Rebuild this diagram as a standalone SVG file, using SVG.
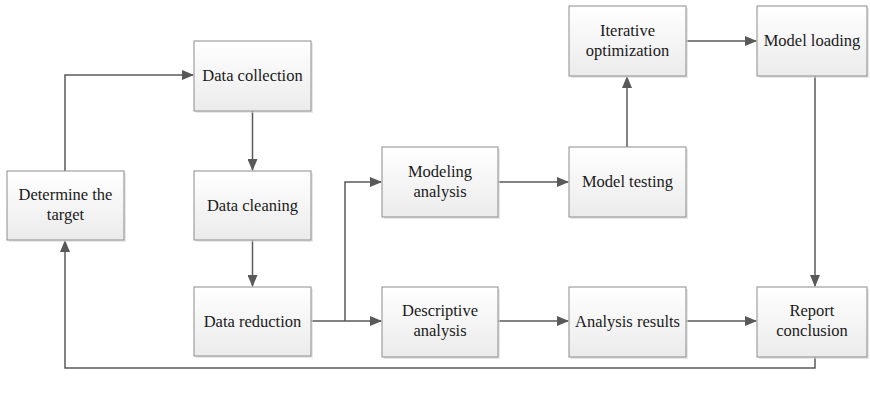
<svg xmlns="http://www.w3.org/2000/svg" width="870" height="396" viewBox="0 0 870 396">
<defs>
<linearGradient id="g" x1="0" y1="0" x2="0" y2="1">
<stop offset="0" stop-color="#ffffff"/>
<stop offset="1" stop-color="#ebebeb"/>
</linearGradient>
<marker id="ah" markerWidth="12" markerHeight="10" refX="11" refY="5" orient="auto" markerUnits="userSpaceOnUse">
<path d="M0,0 L12,5 L0,10 Z" fill="#595959"/>
</marker>
</defs>
<style>
rect.b{fill:url(#g);stroke:#8c8c8c;stroke-width:1}
rect.s{fill:#d9d9d9;opacity:0.6}
text{font-family:'Liberation Serif','Times New Roman','DejaVu Serif',serif;font-size:16.5px;fill:#1a1a1a;text-anchor:middle}
.c path{fill:none;stroke:#595959;stroke-width:1.5}
</style>
<rect width="870" height="396" fill="#ffffff"/>
<g class="c" id="connectors">
<path d="M65,171 V75 H193" marker-end="url(#ah)"/>
<path d="M252.5,111 V170" marker-end="url(#ah)"/>
<path d="M252.5,240 V286" marker-end="url(#ah)"/>
<path d="M311,321 H381" marker-end="url(#ah)"/>
<path d="M345,321 V182 H381" marker-end="url(#ah)"/>
<path d="M498,182 H568" marker-end="url(#ah)"/>
<path d="M627,147 V77" marker-end="url(#ah)"/>
<path d="M686,41 H756" marker-end="url(#ah)"/>
<path d="M815,76 V286" marker-end="url(#ah)"/>
<path d="M498,321 H568" marker-end="url(#ah)"/>
<path d="M686,321 H756" marker-end="url(#ah)"/>
<path d="M815,357 V368 H65 V241" marker-end="url(#ah)"/>
</g>
<g id="determine"><rect class="s" x="9" y="173" width="117" height="69"/><rect class="b" x="7" y="171" width="117" height="69"/><text x="65.5" y="200" font-family="Liberation Serif">Determine the</text><text x="65.5" y="220" font-family="Liberation Serif">target</text></g>
<g id="collection"><rect class="s" x="196" y="43" width="117" height="70"/><rect class="b" x="194" y="41" width="117" height="70"/><text x="252.5" y="81" font-family="Liberation Serif">Data collection</text></g>
<g id="cleaning"><rect class="s" x="196" y="173" width="117" height="69"/><rect class="b" x="194" y="171" width="117" height="69"/><text x="252.5" y="211" font-family="Liberation Serif">Data cleaning</text></g>
<g id="reduction"><rect class="s" x="196" y="289" width="117" height="69"/><rect class="b" x="194" y="287" width="117" height="69"/><text x="252.5" y="327" font-family="Liberation Serif">Data reduction</text></g>
<g id="modeling"><rect class="s" x="384" y="149" width="116" height="70"/><rect class="b" x="382" y="147" width="116" height="70"/><text x="440" y="177" font-family="Liberation Serif">Modeling</text><text x="440" y="197" font-family="Liberation Serif">analysis</text></g>
<g id="descriptive"><rect class="s" x="384" y="289" width="116" height="70"/><rect class="b" x="382" y="287" width="116" height="70"/><text x="440" y="316" font-family="Liberation Serif">Descriptive</text><text x="440" y="336" font-family="Liberation Serif">analysis</text></g>
<g id="testing"><rect class="s" x="571" y="149" width="117" height="70"/><rect class="b" x="569" y="147" width="117" height="70"/><text x="627.5" y="187" font-family="Liberation Serif">Model testing</text></g>
<g id="iterative"><rect class="s" x="571" y="8" width="117" height="70"/><rect class="b" x="569" y="6" width="117" height="70"/><text x="627.5" y="36" font-family="Liberation Serif">Iterative</text><text x="627.5" y="56" font-family="Liberation Serif">optimization</text></g>
<g id="results"><rect class="s" x="571" y="289" width="117" height="70"/><rect class="b" x="569" y="287" width="117" height="70"/><text x="627.5" y="327" font-family="Liberation Serif">Analysis results</text></g>
<g id="loading"><rect class="s" x="759" y="8" width="110" height="70"/><rect class="b" x="757" y="6" width="110" height="70"/><text x="812" y="46" font-family="Liberation Serif">Model loading</text></g>
<g id="report"><rect class="s" x="759" y="289" width="110" height="70"/><rect class="b" x="757" y="287" width="110" height="70"/><text x="812" y="316" font-family="Liberation Serif">Report</text><text x="812" y="336" font-family="Liberation Serif">conclusion</text></g>
</svg>
